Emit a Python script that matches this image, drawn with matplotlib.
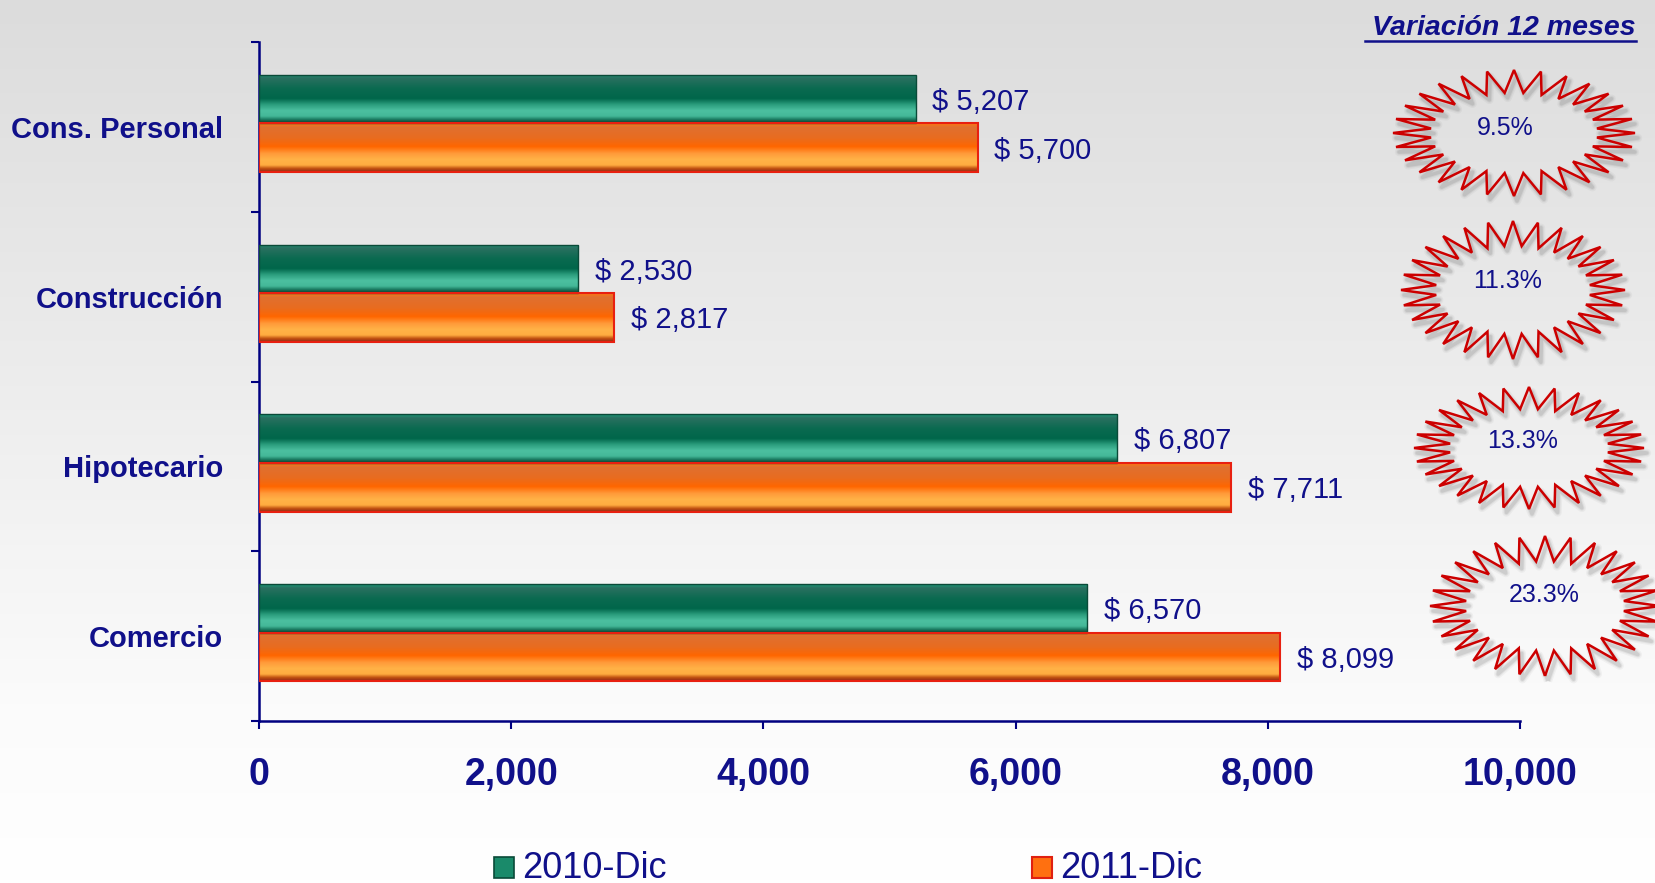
import numpy as np
import matplotlib
matplotlib.use('Agg')
import matplotlib.pyplot as plt
from matplotlib.colors import LinearSegmentedColormap
from matplotlib.patches import Polygon, Rectangle

plt.rcParams['font.family'] = ['Liberation Sans', 'DejaVu Sans']

categories = ['Cons. Personal', 'Construcción', 'Hipotecario', 'Comercio']
series_names = ['2010-Dic', '2011-Dic']
values_2010 = [5207, 2530, 6807, 6570]
values_2011 = [5700, 2817, 7711, 8099]
variation = ['9.5%', '11.3%', '13.3%', '23.3%']
xticks = [0, 2000, 4000, 6000, 8000, 10000]

NAVY = '#10108a'
W, H = 1655, 883
fig = plt.figure(figsize=(16.55, 8.83), dpi=100)

# background gradient
bg = fig.add_axes([0, 0, 1, 1], zorder=-10)
grad = np.linspace(0, 1, 256).reshape(-1, 1)
bg_cmap = LinearSegmentedColormap.from_list('bg', [(0, '#dcdcdc'), (0.8, '#fbfbfb'), (1, '#ffffff')])
bg.imshow(grad, aspect='auto', cmap=bg_cmap, extent=[0, 1, 0, 1], origin='upper')
bg.axis('off')

ax = fig.add_axes([259 / W, 1 - 721 / H, (1520 - 259) / W, (721 - 42) / H])
ax.set_facecolor('none')

y = np.arange(len(categories))
h = 0.286
green_cmap = LinearSegmentedColormap.from_list('g', [
    (0.0, '#1a9a78'), (0.08, '#2a7060'), (0.3, '#0a6a50'), (0.5, '#00664a'),
    (0.62, '#2a9c7c'), (0.75, '#4cc0a0'), (0.86, '#44b898'), (0.93, '#1a7a60'), (1.0, '#0a3a2a')])
orange_cmap = LinearSegmentedColormap.from_list('o', [
    (0.0, '#ff7a10'), (0.08, '#e07030'), (0.3, '#e86c20'), (0.48, '#ff6600'),
    (0.62, '#ff9a3a'), (0.75, '#ffb347'), (0.86, '#ffac40'), (0.93, '#c05010'), (1.0, '#902a18')])

b1 = ax.barh(y - 0.163, values_2010, height=h, facecolor='none', edgecolor='#0a4a38', lw=1.0, zorder=5)
b2 = ax.barh(y + 0.123, values_2011, height=h, facecolor='none', edgecolor='#e82010', lw=1.5, zorder=5)

for bars, cm in ((b1, green_cmap), (b2, orange_cmap)):
    for p in bars:
        x0, y0, w, hh = p.get_x(), p.get_y(), p.get_width(), p.get_height()
        im = ax.imshow(grad, cmap=cm, aspect='auto', extent=[x0, x0 + w, y0 + hh, y0],
                       origin='upper', zorder=4, interpolation='bilinear')
        im.set_clip_path(p)

for bars, vals in ((b1, values_2010), (b2, values_2011)):
    for p, v in zip(bars, vals):
        ax.annotate(f'$ {v:,}', (p.get_width(), p.get_y() + p.get_height() / 2),
                    xytext=(12, -2), textcoords='offset points', ha='left', va='center',
                    fontsize=21, color=NAVY, zorder=6)

ax.set_xlim(0, 10000)
ax.set_ylim(3.5, -0.5)
ax.set_xticks(xticks)
ax.set_xticklabels([f'{t:,}' for t in xticks], fontsize=27, fontweight='bold', color=NAVY)
ax.tick_params(axis='x', length=6, width=1.5, color='#000080', pad=20)
ax.set_yticks([-0.5, 0.5, 1.5, 2.5, 3.5])
ax.set_yticklabels([])
ax.tick_params(axis='y', which='major', length=6, width=1.5, color='#000080')
ax.set_yticks(y, minor=True)
ax.set_yticklabels(categories, minor=True, fontsize=21, fontweight='bold', color=NAVY)
ax.tick_params(axis='y', which='minor', length=0, pad=26)
for s in ('top', 'right'):
    ax.spines[s].set_visible(False)
for s in ('left', 'bottom'):
    ax.spines[s].set_color('#000080')
    ax.spines[s].set_linewidth(1.8)

# overlay in pixel coordinates
ov = fig.add_axes([0, 0, 1, 1], zorder=20)
ov.set_xlim(0, W)
ov.set_ylim(H, 0)
ov.axis('off')
ov.patch.set_alpha(0)

stars = [((1514, 133), 121, 63, (1505, 128)),
         ((1513, 290), 112, 69, (1508, 281)),
         ((1529, 448), 115, 61, (1523, 441)),
         ((1545, 606), 115, 70, (1544, 595))]
n = 28
t = np.linspace(0, 2 * np.pi, 2 * n, endpoint=False) + np.pi / 2
for (c, a, b, tp), lab in zip(stars, variation):
    outer = np.arange(2 * n) % 2 == 0
    rx = np.where(outer, a, a * 0.69)
    ry = np.where(outer, b, b * 0.64)
    pts = np.column_stack([c[0] + rx * np.cos(t), c[1] + ry * np.sin(t)])
    for lw, al in ((6, 0.06), (4, 0.09), (2.5, 0.14)):
        ov.add_patch(Polygon(pts + [3, 5], closed=True, fill=False, edgecolor='#606060',
                             lw=lw, alpha=al, joinstyle='round'))
    ov.add_patch(Polygon(pts, closed=True, fill=False, edgecolor='#cc0000', lw=1.8, joinstyle='miter'))
    ov.text(tp[0], tp[1], lab, ha='center', va='center', fontsize=18, color=NAVY)

# Variación header
ov.text(1636, 28, 'Variación 12 meses', ha='right', va='center', fontsize=20.5,
        fontweight='bold', style='italic', color=NAVY)
ov.plot([1365, 1636], [41, 41], color=NAVY, lw=1.8)

# legend
ov.add_patch(Rectangle((494, 857), 20, 21, facecolor='#1a8a6a', edgecolor='#0a4a38', lw=1.2))
ov.add_patch(Rectangle((1032, 857), 20, 21, facecolor='#ff7010', edgecolor='#e02010', lw=1.5))
ov.text(522, 878, series_names[0], ha='left', va='baseline', fontsize=26, color=NAVY)
ov.text(1060, 878, series_names[1], ha='left', va='baseline', fontsize=26, color=NAVY)

fig.savefig('out.png', dpi=100)
